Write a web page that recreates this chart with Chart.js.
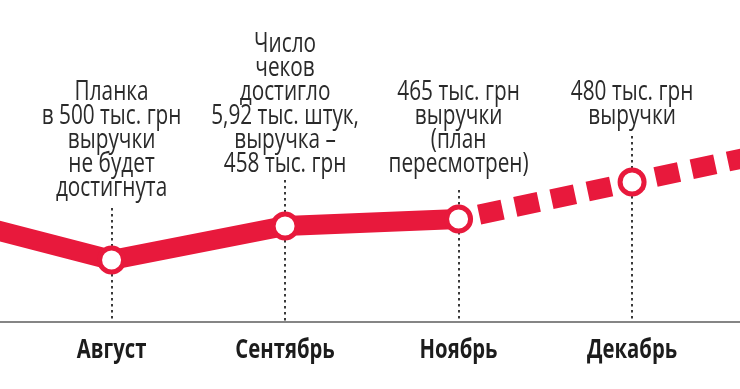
<!DOCTYPE html>
<html><head><meta charset="utf-8">
<script src="https://cdn.jsdelivr.net/npm/chart.js@4.4.1/dist/chart.umd.min.js"></script>
<style>html,body{margin:0;padding:0;background:#fff;overflow:hidden}</style>
</head><body>
<canvas id="c" width="740" height="389"></canvas>
<script>
// ---- data ----
const months = ['Август', 'Сентябрь', 'Ноябрь', 'Декабрь'];
// height of the red line above the axis at each month (relative units)
const monthLevels = [62, 96, 103, 140];
const julyLevel = 107;      // line enters from the left (previous month)
const januaryLevel = 177;   // dashed forecast leaves to the right (next month)
const lastActualIndex = 2;  // Ноябрь: after it the line is a forecast (dashed)
const notes = [
  ['Планка', 'в 500 тыс. грн', 'выручки', 'не будет', 'достигнута'],
  ['Число', 'чеков', 'достигло', '5,92 тыс. штук,', 'выручка –', '458 тыс. грн'],
  ['465 тыс. грн', 'выручки', '(план', 'пересмотрен)'],
  ['480 тыс. грн', 'выручки']
];

// ---- layout / style ----
const FONT = '"Open Sans", "Noto Sans", sans-serif';
const RED = '#e8193c';
const NOTE_BASE = 100, NOTE_LH = 24, NOTE_SX = 0.77;
const LABEL_SX = 0.78;
const noteFirstRow = [0, -2, 0, 0];
const noteGap = [12, 8, 18, 12];

const xs = [-1, ...months.map((m, i) => i), months.length];
const lv = [julyLevel, ...monthLevels, januaryLevel];
const pts = xs.map((x, i) => ({ x, y: lv[i] }));
const solidPts = pts.slice(0, lastActualIndex + 2);
const dashedPts = pts.slice(lastActualIndex + 1);
const markerPts = months.map((m, i) => ({ x: i, y: monthLevels[i] }));

// condensed look for axis labels: squeeze each label horizontally around its own anchor
const condensePlugin = {
  id: 'condense',
  beforeDraw(chart) {
    const s = chart.scales.x;
    if (s._condensed) return;
    const orig = s.drawLabels;
    s.drawLabels = function (area) {
      const c = this.ctx;
      const rot = c.rotate;
      c.rotate = function (a) { rot.call(c, a); c.scale(LABEL_SX, 1); };
      try { orig.call(this, area); } finally { c.rotate = rot; }
    };
    s._condensed = true;
  }
};

const notesPlugin = {
  id: 'notes',
  beforeDatasetsDraw(chart) {
    const { ctx, scales: { x, y } } = chart;
    ctx.save();
    ctx.strokeStyle = '#3a3a3a';
    ctx.lineWidth = 2;
    ctx.setLineDash([2.5, 3.5]);
    notes.forEach((lines, i) => {
      const px = Math.round(x.getPixelForValue(i));
      const top = NOTE_BASE + NOTE_LH * (noteFirstRow[i] + lines.length - 1) + noteGap[i];
      ctx.beginPath();
      ctx.moveTo(px, top);
      ctx.lineTo(px, y.getPixelForValue(0) - 1);
      ctx.stroke();
    });
    ctx.setLineDash([]);
    ctx.font = '500 27px ' + FONT;
    ctx.fillStyle = '#2a2a2a';
    ctx.textAlign = 'center';
    ctx.textBaseline = 'alphabetic';
    notes.forEach((lines, i) => {
      const px = x.getPixelForValue(i);
      lines.forEach((t, k) => {
        ctx.save();
        ctx.translate(px, NOTE_BASE + NOTE_LH * (noteFirstRow[i] + k));
        ctx.scale(NOTE_SX, 1);
        ctx.fillText(t, 0, 0);
        ctx.restore();
      });
    });
    ctx.restore();
  }
};

new Chart(document.getElementById('c'), {
  type: 'line',
  data: {
    datasets: [
      { data: markerPts, showLine: false, pointRadius: 12, pointBorderWidth: 5,
        pointBackgroundColor: '#fff', pointBorderColor: RED },
      { data: solidPts, borderColor: RED, borderWidth: 20, pointRadius: 0,
        borderJoinStyle: 'round', borderCapStyle: 'butt' },
      { data: dashedPts, borderColor: RED, borderWidth: 20, pointRadius: 0,
        borderDash: [24, 13], borderCapStyle: 'butt',
        segment: { borderDashOffset: c => (c.p0DataIndex === 0 ? 16 : 13) } }
    ]
  },
  options: {
    responsive: false,
    devicePixelRatio: 1,
    animation: false,
    events: [],
    layout: { padding: 0, autoPadding: false },
    plugins: { legend: { display: false }, tooltip: { enabled: false } },
    scales: {
      x: {
        type: 'linear', min: -0.643, max: 3.622,
        afterBuildTicks: s => { s.ticks = months.map((m, i) => ({ value: i })); },
        afterFit: s => { s.height = 67; s.paddingLeft = 0; s.paddingRight = 0; },
        grid: { display: false, drawTicks: false },
        border: { display: true, color: '#858585', width: 2 },
        ticks: {
          callback: v => months[v],
          font: { family: FONT, size: 26, weight: 'bold' },
          color: '#1c1c1c',
          padding: 13,
          maxRotation: 0, autoSkip: false
        }
      },
      y: { display: false, min: 0, max: 322 }
    }
  },
  plugins: [condensePlugin, notesPlugin]
});
</script>
</body></html>
